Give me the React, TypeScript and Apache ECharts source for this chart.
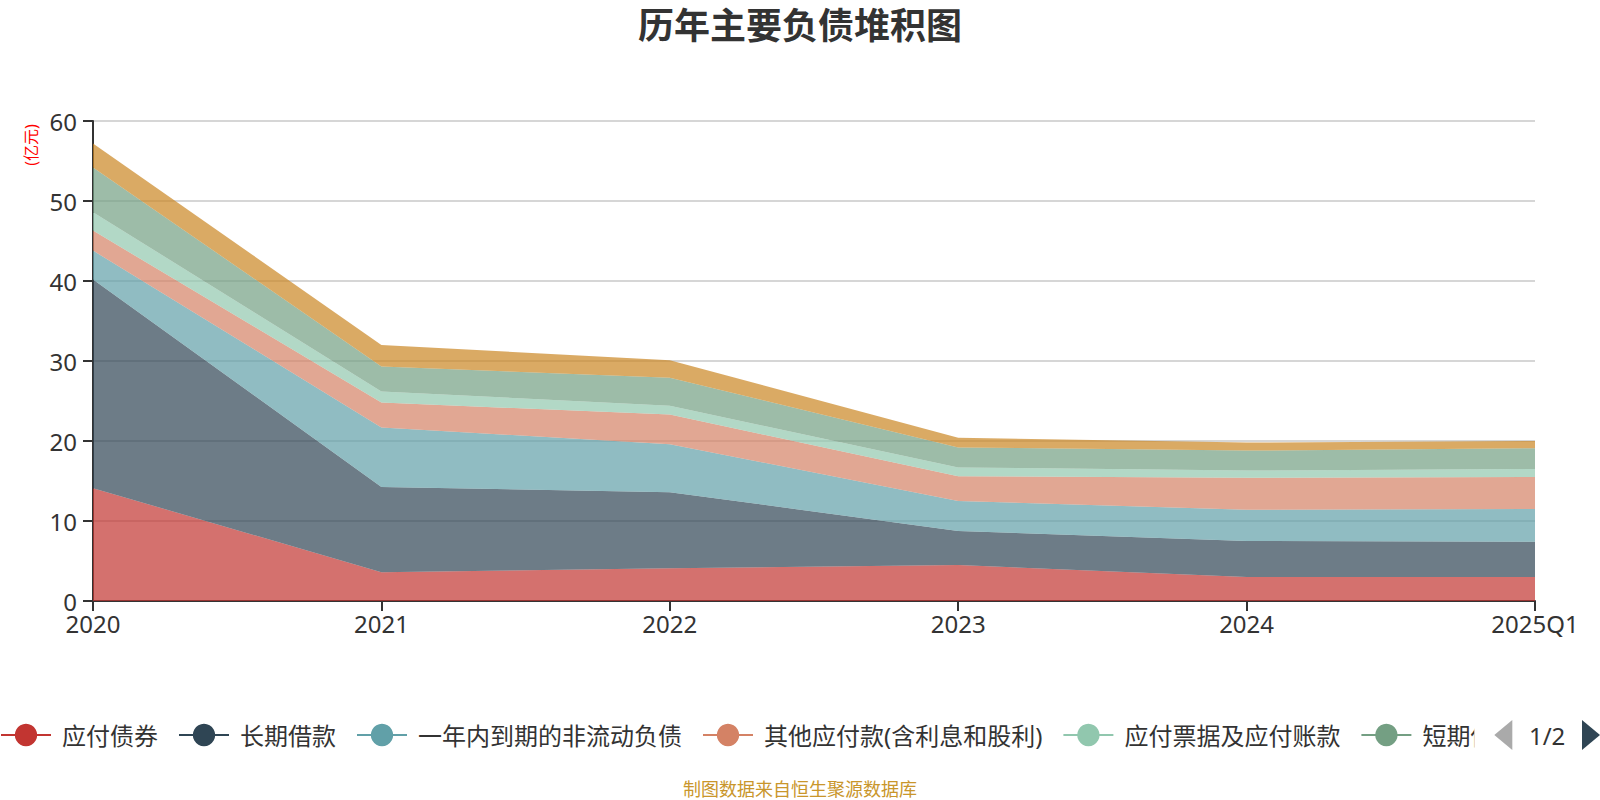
import React, { useEffect, useRef } from "react";
import * as echarts from "echarts";

const categories = ["2020", "2021", "2022", "2023", "2024", "2025Q1"];
const seriesNames = [
  "应付债券",
  "长期借款",
  "一年内到期的非流动负债",
  "其他应付款(含利息和股利)",
  "应付票据及应付账款",
  "短期借款",
  "合同负债",
];
const bondsPayable = [14.1, 3.6, 4.1, 4.5, 3.0, 3.0];
const longTermLoans = [26.1, 10.65, 9.5, 4.25, 4.5, 4.4];
const currentNonCurrent = [3.6, 7.45, 6.0, 3.75, 3.9, 4.1];
const otherPayables = [2.5, 3.1, 3.7, 3.1, 4.0, 4.0];
const notesAccountsPayable = [2.3, 1.4, 1.1, 1.1, 0.9, 1.0];
const shortTermLoans = [5.6, 3.1, 3.5, 2.5, 2.5, 2.6];
const contractLiabilities = [3.0, 2.7, 2.2, 1.2, 1.0, 0.9];
const seriesValues = [
  bondsPayable,
  longTermLoans,
  currentNonCurrent,
  otherPayables,
  notesAccountsPayable,
  shortTermLoans,
  contractLiabilities,
];
const colors = ["#c23531", "#2f4554", "#61a0a8", "#d48265", "#91c7ae", "#749f83", "#ca8622"];
const yTicks = { min: 0, max: 60, interval: 10 };

const FONT = "'Microsoft YaHei', 'Noto Sans', 'Noto Sans CJK SC', sans-serif";

export default function App() {
  const ref = useRef<HTMLDivElement>(null);
  useEffect(() => {
    document.body.style.margin = "0";
    if (!ref.current) return;
    const chart = echarts.init(ref.current, undefined, { renderer: "svg" });
    chart.setOption({
      animation: false,
      color: colors,
      textStyle: { fontFamily: FONT },
      title: {
        text: "历年主要负债堆积图",
        left: "center",
        top: 2,
        textStyle: { fontSize: 36, fontWeight: "bold", color: "#333", fontFamily: FONT },
      },
      legend: {
        type: "scroll",
        left: 0,
        right: 0,
        top: 720,
        padding: 0,
        itemWidth: 50,
        itemHeight: 28,
        itemGap: 20,
        lineStyle: { width: 2 },
        textStyle: { fontSize: 24, color: "#333", fontFamily: FONT, padding: [0, 0, 0, 6] },
        pageIconSize: [18, 30],
        pageButtonGap: 20,
        pageIconColor: "#2f4554",
        pageIconInactiveColor: "#aaa",
        pageTextStyle: { fontSize: 24, color: "#333", fontFamily: FONT },
        data: seriesNames,
      },
      grid: { left: 93, right: 65, top: 121, bottom: 199, containLabel: false },
      xAxis: {
        type: "category",
        boundaryGap: false,
        data: categories,
        axisLine: { lineStyle: { color: "#333", width: 2 } },
        axisTick: { show: true, length: 10, lineStyle: { color: "#333", width: 2 } },
        axisLabel: { fontSize: 24, color: "#333", margin: 10, fontFamily: FONT },
      },
      yAxis: {
        type: "value",
        min: yTicks.min,
        max: yTicks.max,
        interval: yTicks.interval,
        axisLine: { show: true, lineStyle: { color: "#333", width: 2 } },
        axisTick: { show: true, length: 10, lineStyle: { color: "#333", width: 2 } },
        axisLabel: { fontSize: 24, color: "#333", margin: 16, fontFamily: FONT },
        splitLine: { lineStyle: { color: "#c8c8c8", width: 1.5 } },
      },
      graphic: [
        {
          type: "text",
          x: 31,
          y: 145,
          rotation: Math.PI / 2,
          style: {
            text: "(亿元)",
            fill: "#ff0000",
            fontSize: 16,
            fontFamily: FONT,
            textAlign: "center",
            textVerticalAlign: "middle",
          },
        },
        {
          type: "text",
          x: 800,
          y: 789,
          style: {
            text: "制图数据来自恒生聚源数据库",
            fill: "#c9962b",
            fontSize: 18,
            fontFamily: FONT,
            textAlign: "center",
            textVerticalAlign: "middle",
          },
        },
      ],
      series: seriesNames.map((name, i) => ({
        name,
        type: "line",
        stack: "total",
        data: seriesValues[i],
        symbol: "circle",
        showSymbol: false,
        lineStyle: { width: 0 },
        areaStyle: { opacity: 0.7 },
        emphasis: { disabled: true },
      })),
    });
    return () => chart.dispose();
  }, []);
  return <div ref={ref} style={{ width: 1600, height: 800 }} />;
}
